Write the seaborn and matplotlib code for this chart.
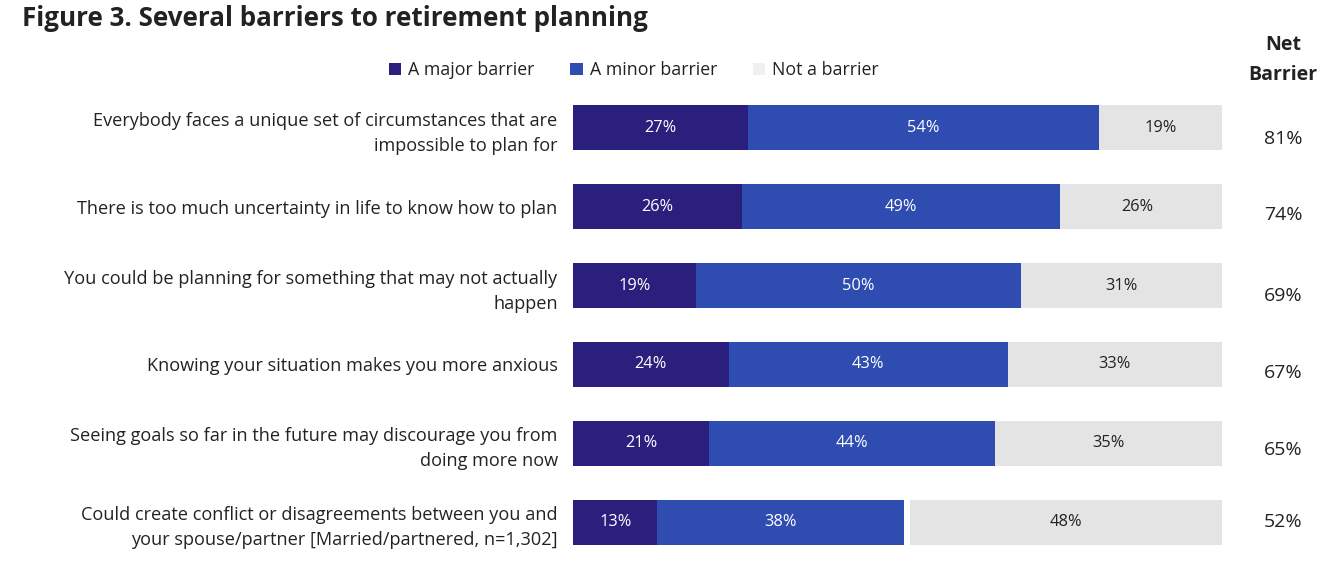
import matplotlib
matplotlib.use("Agg")
import matplotlib.pyplot as plt
import seaborn as sns
import pandas as pd
import numpy as np
from matplotlib.patches import Patch

categories = [
    "Everybody faces a unique set of circumstances that are\nimpossible to plan for",
    "There is too much uncertainty in life to know how to plan",
    "You could be planning for something that may not actually\nhappen",
    "Knowing your situation makes you more anxious",
    "Seeing goals so far in the future may discourage you from\ndoing more now",
    "Could create conflict or disagreements between you and\nyour spouse/partner [Married/partnered, n=1,302]",
]
major = [27, 26, 19, 24, 21, 13]
minor = [54, 49, 50, 43, 44, 38]
not_barrier = [19, 26, 31, 33, 35, 48]
net_barrier = [81, 74, 69, 67, 65, 52]
series_names = ["A major barrier", "A minor barrier", "Not a barrier"]

c_major = "#2b1f7e"
c_minor = "#2f4db0"
c_not = "#e4e4e4"

sns.set_theme(style="white")
plt.rcParams["font.family"] = ["Open Sans", "DejaVu Sans"]

df = pd.DataFrame({
    "cat": categories,
    "major": major,
    "minor": minor,
    "notb": not_barrier,
})
df["cum_minor"] = df["major"] + df["minor"]
df["total"] = 100
df["white"] = 100 - df["notb"]

fig = plt.figure(figsize=(13.24, 5.73), dpi=100)
ax = fig.add_axes([573 / 1324, 1 - 561.5 / 573, (1222 - 573) / 1324, (561.5 - 88.5) / 573])

bw = 0.57
common = dict(y="cat", width=bw, ax=ax, saturation=1, orient="y", linewidth=0, edgecolor="none")
sns.barplot(data=df, x="total", color=c_not, **common)
sns.barplot(data=df, x="white", color="white", **common)
sns.barplot(data=df, x="cum_minor", color=c_minor, **common)
sns.barplot(data=df, x="major", color=c_major, **common)

ax.set_xlim(0, 100)
ax.set_ylim(5.5, -0.5)
ax.set_xlabel("")
ax.set_ylabel("")
ax.set_xticks([])
sns.despine(ax=ax, left=True, bottom=True)
ax.tick_params(axis="y", length=0, pad=11, labelsize=13.1, labelcolor="#222222")
for t in ax.get_yticklabels():
    t.set_linespacing(1.5)

fs_in = 11.8
for i in range(len(categories)):
    m, n, nb = major[i], minor[i], not_barrier[i]
    ax.text(m / 2, i, f"{m}%", ha="center", va="center", color="white", fontsize=fs_in)
    ax.text(m + n / 2, i, f"{n}%", ha="center", va="center", color="white", fontsize=fs_in)
    ax.text(100 - nb / 2, i, f"{nb}%", ha="center", va="center", color="#222222", fontsize=fs_in)

# net barrier column
net_y = [139, 215, 296, 373, 450, 522]
for v, yp in zip(net_barrier, net_y):
    fig.text(1283 / 1324, 1 - yp / 573, f"{v}%", ha="center", va="center", fontsize=14, color="#222222")
fig.text(1283 / 1324, 1 - 45 / 573, "Net", ha="center", va="center", fontsize=14, fontweight="bold", color="#222222")
fig.text(1283 / 1324, 1 - 75 / 573, "Barrier", ha="center", va="center", fontsize=14, fontweight="bold", color="#222222")

# title
fig.text(22 / 1324, 1 - 18 / 573, "Figure 3. Several barriers to retirement planning", ha="left", va="center",
         fontsize=18.7, fontweight="bold", color="#222222")

handles = [Patch(facecolor=c, edgecolor="none") for c in [c_major, c_minor, "#f0f0f0"]]
fig.legend(handles, series_names, loc="center", bbox_to_anchor=(634 / 1324, 1 - 70 / 573), ncol=3,
           frameon=False, fontsize=12.8, handlelength=0.7, handleheight=0.7, handletextpad=0.4,
           columnspacing=2.0, labelcolor="#222222")

fig.savefig("out.png", dpi=100)
